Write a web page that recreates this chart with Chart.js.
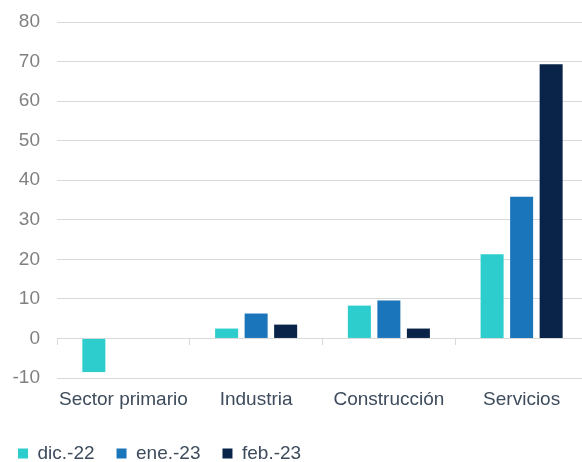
<!DOCTYPE html>
<html>
<head>
<meta charset="utf-8">
<script src="https://cdn.jsdelivr.net/npm/chart.js@4/dist/chart.umd.min.js"></script>
<style>
  html, body { margin: 0; padding: 0; background: #fff; overflow: hidden; }
  /* the original picture is cropped a little on the right and bottom */
  #wrap { width: 588px; height: 473px; }
</style>
</head>
<body>
<div id="wrap"><canvas id="chart"></canvas></div>
<script>
const categories = ['Sector primario', 'Industria', 'Construcción', 'Servicios'];
const seriesNames = ['dic.-22', 'ene.-23', 'feb.-23'];
const dic22 = [-8.5, 2.5, 8.3, 21.3];
const ene23 = [null, 6.3, 9.6, 35.8];
const feb23 = [null, 3.5, 2.5, 69.3];
const seriesColors = ['#2ecdcd', '#1b75bb', '#0a2348'];
const yTicks = { min: -10, max: 80, step: 10 };

const font = { family: 'Liberation Sans, Arial, sans-serif', size: 19 };

const ctx = document.getElementById('chart').getContext('2d');
new Chart(ctx, {
    type: 'bar',
    data: {
        labels: categories,
        datasets: [dic22, ene23, feb23].map((d, i) => ({
            label: seriesNames[i],
            data: d,
            backgroundColor: seriesColors[i],
            categoryPercentage: 0.667,
            barPercentage: 0.78
        }))
    },
    options: {
        responsive: true,
        maintainAspectRatio: false,
        animation: false,
        layout: { padding: { top: 22, right: 0, left: -4, bottom: 0 } },
        plugins: {
            tooltip: { enabled: false },
            legend: {
                position: 'bottom',
                align: 'start',
                labels: {
                    boxWidth: 10,
                    boxHeight: 10,
                    color: '#3d4b5c',
                    font: font,
                    padding: 22
                }
            }
        },
        scales: {
            x: {
                offset: true,
                grid: { display: false },
                border: { display: false },
                ticks: { color: '#3d4b5c', font: font, padding: 2, maxRotation: 0, minRotation: 0, autoSkip: false },
                afterFit: s => { s.height = 44; }
            },
            x0: {
                type: 'category',
                axis: 'x',
                labels: categories,
                position: { y: 0 },
                offset: true,
                grid: { offset: true, drawOnChartArea: false, drawTicks: true, tickLength: 6, color: '#d9d9d9' },
                border: { display: true, color: '#d9d9d9' },
                ticks: { display: false }
            },
            y: {
                min: yTicks.min,
                max: yTicks.max,
                ticks: { stepSize: yTicks.step, color: '#808080', font: font, padding: 17 },
                grid: { color: '#d9d9d9', drawTicks: false },
                border: { display: false },
                afterFit: s => {
                    s.width = 61;
                    s.paddingTop = 0;
                    s.paddingBottom = 0;
                }
            }
        }
    }
});
</script>
</body>
</html>
